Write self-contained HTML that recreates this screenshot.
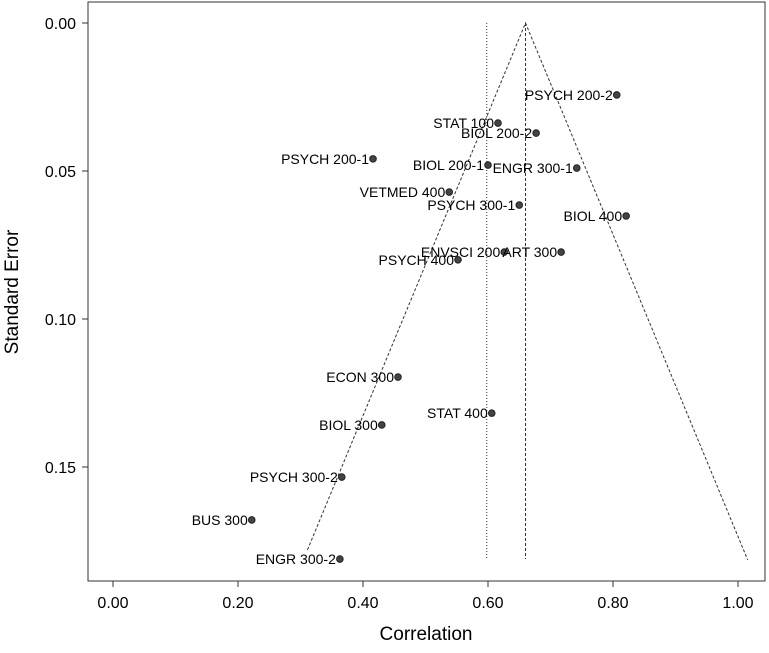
<!DOCTYPE html>
<html><head><meta charset="utf-8"><style>
body{margin:0;background:#fff}
svg text{font-family:"Liberation Sans",sans-serif;fill:#000}
</style></head><body>
<svg width="769" height="648">
<rect x="88" y="2" width="677" height="579" fill="none" stroke="#333" stroke-width="1"/>
<g id="ticks"></g><g id="guides"></g><g id="pts"></g>
<text x="18" y="292" font-size="19" text-anchor="middle" transform="rotate(-90 18 292)">Standard Error</text>
<text x="426" y="640" font-size="19" text-anchor="middle">Correlation</text>
</svg>
<script>
const labels=["PSYCH 200-2","STAT 100","BIOL 200-2","PSYCH 200-1","BIOL 200-1","ENGR 300-1","VETMED 400","PSYCH 300-1","BIOL 400","ENVSCI 200","ART 300","PSYCH 400","ECON 300","STAT 400","BIOL 300","PSYCH 300-2","BUS 300","ENGR 300-2"];
const corr=[0.806,0.616,0.677,0.416,0.600,0.742,0.538,0.650,0.821,0.626,0.717,0.552,0.456,0.606,0.430,0.366,0.222,0.363];
const se=[0.0243,0.0338,0.0372,0.0459,0.048,0.049,0.0571,0.0615,0.0652,0.0774,0.0774,0.080,0.1196,0.1318,0.1358,0.1534,0.1679,0.1811];
const xTicks=[0,0.2,0.4,0.6,0.8,1.0];
const yTicks=[0,0.05,0.1,0.15];
const pooled=0.66, fixedMean=0.598, seMax=0.1814;
const X=v=>113+v*625, Y=v=>23+v*2960;
const NS="http://www.w3.org/2000/svg";
function mk(p,t,a){const e=document.createElementNS(NS,t);for(const k in a)e.setAttribute(k,a[k]);p.appendChild(e);return e;}
const tk=document.getElementById('ticks');
xTicks.forEach(v=>{
 const l=mk(tk,'line',{x1:X(v),x2:X(v),y1:581,y2:587,stroke:'#333'});
 
 
 const t=mk(tk,'text',{x:X(v),y:608,'font-size':16,'text-anchor':'middle'});t.textContent=v.toFixed(2);
 
 
});
yTicks.forEach(v=>{
 const l=mk(tk,'line',{x1:82,x2:88,y1:Y(v),y2:Y(v),stroke:'#333'});
 
 
 const t=mk(tk,'text',{x:76,y:Y(v)+6,'font-size':16,'text-anchor':'end'});t.textContent=v.toFixed(2);
 
 
});
const g=document.getElementById('guides');
let e=mk(g,'line',{x1:X(fixedMean),x2:X(fixedMean),y1:Y(0),y2:Y(seMax)-1,stroke:'#333','stroke-dasharray':'1,2'});


e=mk(g,'line',{x1:X(pooled),x2:X(pooled),y1:Y(0),y2:Y(seMax)-1,stroke:'#333','stroke-dasharray':'3,2'});


e=mk(g,'polyline',{points:`${X(pooled-1.96*0.178)},${Y(0.178)} ${X(pooled)},${Y(0)} ${X(pooled+1.96*seMax)},${Y(seMax)}`,fill:'none',stroke:'#333','stroke-dasharray':'3,2'});


const p=document.getElementById('pts');
labels.forEach((n,i)=>{
 const c=mk(p,'circle',{cx:X(corr[i]),cy:Y(se[i]),r:3.3,fill:'#444',stroke:'#222'});
 
 
 const t=mk(p,'text',{x:X(corr[i])-4,y:Y(se[i])+5,'font-size':14,'text-anchor':'end'});t.textContent=n;
 
 
});
</script>
</body></html>
